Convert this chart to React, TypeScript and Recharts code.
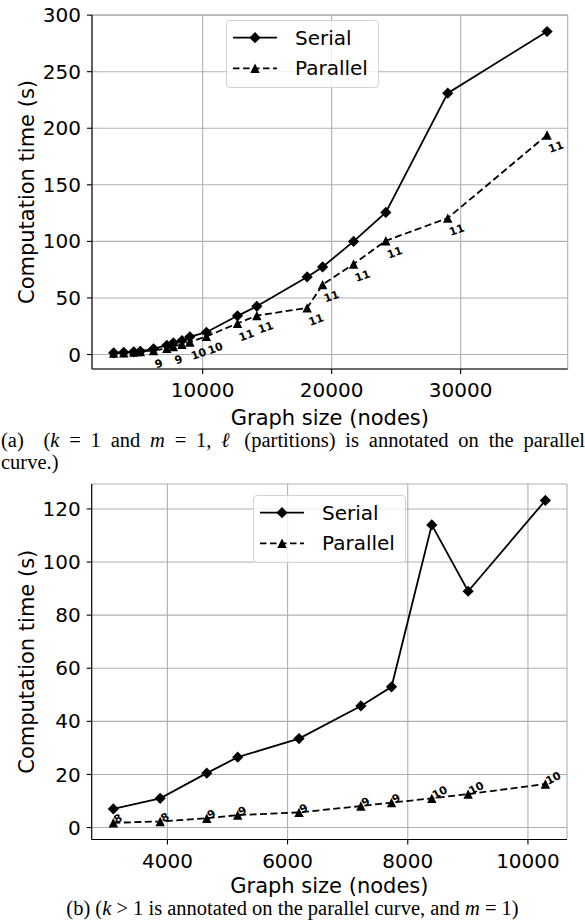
import React from 'react';
import { LineChart, Line, XAxis, YAxis, CartesianGrid, Legend, LabelList, Label } from 'recharts';

// ---------- Panel (a): k = 1, m = 1 ----------
const sizesA = [3100, 3880, 4655, 5170, 6190, 7220, 7730, 8400, 9005, 10290, 12700, 14200, 18100, 19300, 21700, 24200, 29000, 36700];
const serialA = [1.5, 2.0, 2.4, 2.9, 5.0, 8.2, 10.3, 12.4, 15.6, 19.7, 34.2, 42.6, 68.6, 77.4, 100.0, 125.6, 231.0, 285.5];
const parallelA = [1.2, 1.6, 2.1, 2.6, 3.5, 5.5, 7.0, 9.0, 11.0, 16.0, 27.5, 34.4, 41.2, 61.8, 80.0, 100.6, 120.6, 194.0];
const partitionsA = ['', '', '', '', '9', '', '9', '', '10', '10', '11', '11', '11', '11', '11', '11', '11', '11'];
const xTicksA = [10000, 20000, 30000];
const yTicksA = [0, 50, 100, 150, 200, 250, 300];

// ---------- Panel (b): k > 1, m = 1 ----------
const sizesB = [3100, 3880, 4655, 5170, 6190, 7220, 7730, 8400, 9005, 10290];
const serialB = [7.0, 11.0, 20.5, 26.5, 33.5, 45.8, 53.0, 114.0, 89.0, 123.2];
const parallelB = [1.8, 2.3, 3.5, 4.7, 5.7, 8.1, 9.4, 11.0, 12.6, 16.4];
const kB = ['8', '8', '9', '9', '9', '9', '9', '10', '10', '10'];
const xTicksB = [4000, 6000, 8000, 10000];
const yTicksB = [0, 20, 40, 60, 80, 100, 120];

const dataA = sizesA.map((x, i) => ({ x, serial: serialA[i], parallel: parallelA[i], label: partitionsA[i] }));
const dataB = sizesB.map((x, i) => ({ x, serial: serialB[i], parallel: parallelB[i], label: kB[i] }));

const FONT = '"DejaVu Sans", Verdana, sans-serif';
const SERIF = '"Liberation Serif", "Times New Roman", serif';

const diamondPath = (cx: number, cy: number, r: number) =>
  `M${cx},${cy - r}L${cx + r},${cy}L${cx},${cy + r}L${cx - r},${cy}Z`;
const trianglePath = (cx: number, cy: number, r: number) =>
  `M${cx},${cy - r}L${cx + r},${cy + r}L${cx - r},${cy + r}Z`;

const DiamondDot = (props: any) => {
  const { cx, cy, index } = props;
  if (cx == null || cy == null) return <g key={`dd${index}`} />;
  return <path key={`dd${index}`} d={diamondPath(cx, cy, 5.6)} fill="#000" />;
};
const TriangleDot = (props: any) => {
  const { cx, cy, index } = props;
  if (cx == null || cy == null) return <g key={`td${index}`} />;
  return <path key={`td${index}`} d={trianglePath(cx, cy, 4.7)} fill="#000" />;
};

const makeLabel = (dx: number, dy: number, rot: number) => (props: any) => {
  const { x, y, value, index } = props;
  if (!value || x == null || y == null) return null;
  const tx = Number(x) + dx;
  const ty = Number(y) + dy;
  return (
    <text
      key={`lb${index}`}
      x={tx}
      y={ty}
      transform={`rotate(${rot} ${tx} ${ty})`}
      fontSize={11}
      fontWeight="bold"
      fontFamily={FONT}
      fill="#000"
    >
      {value}
    </text>
  );
};

const LegendBox = ({ w, h }: { w: number; h: number }) => (
  <div
    style={{
      width: w,
      height: h,
      boxSizing: 'border-box',
      border: '1px solid #d3d3d3',
      borderRadius: 4,
      background: 'rgba(255,255,255,0.8)',
    }}
  >
    <svg width={w - 2} height={h - 2} style={{ display: 'block' }}>
      <line x1={6} x2={50} y1={16.7} y2={16.7} stroke="#000" strokeWidth={1.8} />
      <path d={diamondPath(28, 16.7, 5.6)} fill="#000" />
      <text x={68} y={16.7} dominantBaseline="central" fontFamily={FONT} fontSize={20} fill="#000">
        Serial
      </text>
      <line x1={6} x2={50} y1={47.3} y2={47.3} stroke="#000" strokeWidth={1.8} strokeDasharray="6.5 3.5" />
      <path d={trianglePath(28, 47.3, 4.7)} fill="#000" />
      <text x={68} y={47.3} dominantBaseline="central" fontFamily={FONT} fontSize={20} fill="#000">
        Parallel
      </text>
    </svg>
  </div>
);

type PanelProps = {
  data: any[];
  width: number;
  height: number;
  margin: { top: number; right: number; left: number; bottom: number };
  yAxisWidth: number;
  xAxisHeight: number;
  xDomain: [number, number];
  yDomain: [number, number];
  xTicks: number[];
  yTicks: number[];
  xLabelBaseline: number;
  legendLeft: number;
  legendTop: number;
  labelContent: (p: any) => any;
};

const Panel = (p: PanelProps) => (
  <LineChart width={p.width} height={p.height} data={p.data} margin={p.margin}>
    <CartesianGrid stroke="#b0b0b0" strokeWidth={1.1} />
    <XAxis
      dataKey="x"
      type="number"
      domain={p.xDomain}
      ticks={p.xTicks}
      allowDataOverflow
      height={p.xAxisHeight}
      tickSize={5}
      tickMargin={9}
      axisLine={{ stroke: '#000', strokeWidth: 1.1 }}
      tickLine={{ stroke: '#000', strokeWidth: 1.1 }}
      tick={{ fill: '#000', fontSize: 20, fontFamily: FONT }}
    >
      <Label
        content={(lp: any) => {
          const vb = lp.viewBox || { x: 0, y: 0, width: 0 };
          return (
            <text
              x={vb.x + vb.width / 2}
              y={vb.y + p.xLabelBaseline}
              textAnchor="middle"
              fontFamily={FONT}
              fontSize={21}
              fill="#000"
            >
              Graph size (nodes)
            </text>
          );
        }}
      />
    </XAxis>
    <YAxis
      type="number"
      domain={p.yDomain}
      ticks={p.yTicks}
      allowDataOverflow
      width={p.yAxisWidth}
      tickSize={5}
      tickMargin={6}
      axisLine={{ stroke: '#000', strokeWidth: 1.1 }}
      tickLine={{ stroke: '#000', strokeWidth: 1.1 }}
      tick={{ fill: '#000', fontSize: 20, fontFamily: FONT }}
    >
      <Label
        content={(lp: any) => {
          const vb = lp.viewBox || { x: 0, y: 0, height: 0 };
          const cx = 27;
          const cy = vb.y + vb.height / 2;
          return (
            <text
              x={cx}
              y={cy}
              transform={`rotate(-90 ${cx} ${cy})`}
              textAnchor="middle"
              dominantBaseline="central"
              fontFamily={FONT}
              fontSize={21}
              fill="#000"
            >
              Computation time (s)
            </text>
          );
        }}
      />
    </YAxis>
    <XAxis
      xAxisId="top"
      orientation="top"
      type="number"
      dataKey="x"
      domain={p.xDomain}
      allowDataOverflow
      ticks={[]}
      tick={false}
      tickLine={false}
      height={0}
      axisLine={{ stroke: '#000', strokeWidth: 1.1 }}
    />
    <YAxis
      yAxisId="right"
      orientation="right"
      type="number"
      domain={p.yDomain}
      allowDataOverflow
      ticks={[]}
      tick={false}
      tickLine={false}
      width={0}
      axisLine={{ stroke: '#000', strokeWidth: 1.1 }}
    />
    <Legend
      layout="vertical"
      align="center"
      verticalAlign="middle"
      wrapperStyle={{ left: p.legendLeft, top: p.legendTop, width: 153, height: 68 }}
      content={() => <LegendBox w={153} h={68} />}
    />
    <Line
      type="linear"
      dataKey="serial"
      name="Serial"
      stroke="#000"
      strokeWidth={1.8}
      dot={DiamondDot}
      activeDot={false}
      isAnimationActive={false}
    />
    <Line
      type="linear"
      dataKey="parallel"
      name="Parallel"
      stroke="#000"
      strokeWidth={1.8}
      strokeDasharray="7 3.5"
      dot={TriangleDot}
      activeDot={false}
      isAnimationActive={false}
    >
      <LabelList dataKey="label" content={p.labelContent} />
    </Line>
  </LineChart>
);

export default function App() {
  return (
    <div
      style={{
        position: 'absolute',
        left: 0,
        top: 0,
        width: 585,
        height: 921,
        background: '#fff',
        overflow: 'hidden',
      }}
    >
      <div style={{ position: 'absolute', left: 0, top: 0 }}>
        <Panel
          data={dataA}
          width={585}
          height={440}
          margin={{ top: 15, right: 17.3, left: 0, bottom: 0 }}
          yAxisWidth={92}
          xAxisHeight={71}
          xDomain={[1420, 38300]}
          yDomain={[-12.8, 300.1]}
          xTicks={xTicksA}
          yTicks={yTicksA}
          xLabelBaseline={56}
          legendLeft={226}
          legendTop={20}
          labelContent={makeLabel(3, 18, -20)}
        />
      </div>
      <div
        style={{
          position: 'absolute',
          left: 1,
          top: 429,
          width: 584,
          fontFamily: SERIF,
          fontSize: 20.5,
          lineHeight: '22px',
          color: '#000',
          textAlign: 'justify',
          textAlignLast: 'justify',
        }}
      >
        (a)&nbsp; (<i>k</i> = 1 and <i>m</i> = 1, <i>ℓ</i> (partitions) is annotated on the parallel
      </div>
      <div
        style={{
          position: 'absolute',
          left: 1,
          top: 451,
          fontFamily: SERIF,
          fontSize: 20.5,
          lineHeight: '22px',
          color: '#000',
        }}
      >
        curve.)
      </div>
      <div style={{ position: 'absolute', left: 0, top: 444 }}>
        <Panel
          data={dataB}
          width={585}
          height={477}
          margin={{ top: 40, right: 18, left: 0, bottom: 0 }}
          yAxisWidth={91.7}
          xAxisHeight={81.5}
          xDomain={[2740, 10650]}
          yDomain={[-4.5, 129.4]}
          xTicks={xTicksB}
          yTicks={yTicksB}
          xLabelBaseline={53}
          legendLeft={253}
          legendTop={51}
          labelContent={makeLabel(3, 1, -28)}
        />
      </div>
      <div
        style={{
          position: 'absolute',
          left: 0,
          top: 897,
          width: 585,
          fontFamily: SERIF,
          fontSize: 20.5,
          lineHeight: '22px',
          color: '#000',
          textAlign: 'center',
        }}
      >
        (b) (<i>k</i> &gt; 1 is annotated on the parallel curve, and <i>m</i> = 1)
      </div>
    </div>
  );
}
